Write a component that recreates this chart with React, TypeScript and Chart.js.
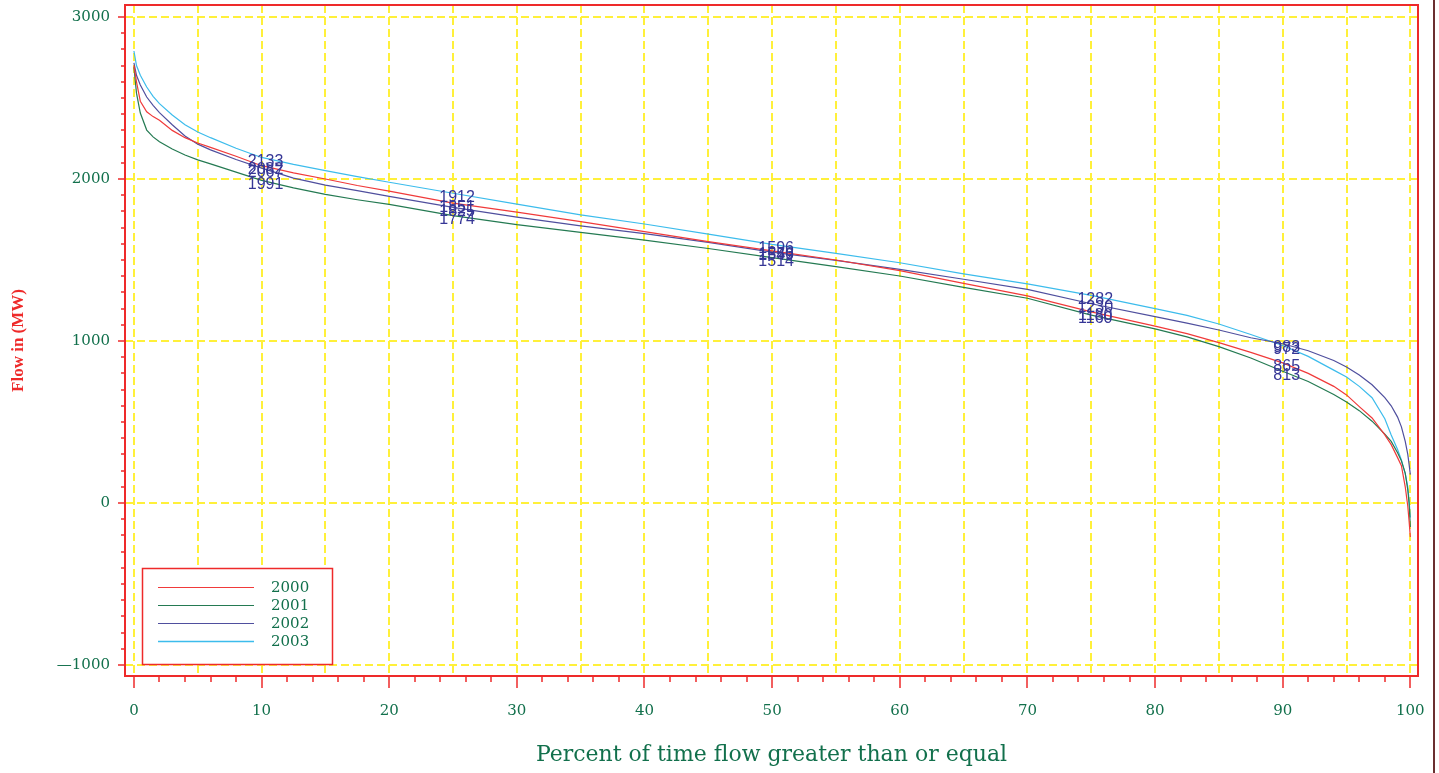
import React, { useEffect, useRef } from "react";
import { Chart, registerables } from "chart.js";

Chart.register(...registerables);

// ---------- data ----------
const percentPoints = [
  0, 0.2, 0.5, 1, 1.5, 2, 3, 4, 5, 6,
  8, 10, 12.5, 15, 17.5, 20, 25, 30, 35, 40,
  45, 50, 55, 60, 65, 70, 75, 80, 82.5, 85,
  87.5, 90, 92, 94, 95, 96, 97, 98, 98.5, 99,
  99.3, 99.6, 99.8, 99.9, 100,
];

const flow2000 = [
  2700, 2600, 2480, 2415, 2385, 2362, 2300, 2255, 2222, 2195,
  2140, 2082, 2038, 2000, 1960, 1925, 1851, 1795, 1737, 1675,
  1613, 1556, 1500, 1434, 1356, 1278, 1180, 1092, 1045, 990,
  930, 865, 800, 720, 667, 595, 525, 420, 360, 280,
  230, 100, -20, -110, -210,
];

const flow2001 = [
  2690, 2530, 2407, 2302, 2260, 2230, 2185, 2148, 2118, 2093,
  2042, 1991, 1945, 1905, 1872, 1843, 1774, 1718, 1671, 1623,
  1571, 1514, 1459, 1401, 1331, 1264, 1160, 1075, 1025, 965,
  895, 813, 750, 670, 623, 570, 505, 425, 380, 310,
  260, 185, 80, 0, -148,
];

const flow2002 = [
  2716, 2640, 2580, 2506, 2455, 2410, 2335, 2265, 2215, 2180,
  2120, 2067, 2005, 1962, 1928, 1893, 1825, 1765, 1710, 1663,
  1609, 1549, 1498, 1442, 1381, 1319, 1230, 1150, 1110, 1068,
  1020, 983, 940, 880, 840, 790, 730, 650, 600, 530,
  470, 380, 300, 240, 175,
];

const flow2003 = [
  2790, 2700, 2640, 2568, 2510, 2465, 2395, 2335, 2290, 2255,
  2190, 2133, 2090, 2052, 2015, 1980, 1912, 1845, 1778, 1722,
  1660, 1596, 1541, 1483, 1414, 1352, 1282, 1200, 1158, 1105,
  1040, 972, 905, 820, 778, 720, 650, 520, 420, 330,
  265, 180, 99, 20, -90,
];

const seriesNames = ["2000", "2001", "2002", "2003"];
const seriesColors = ["#f03a3a", "#247a52", "#4f4f9e", "#3cbcec"];

const labelPercents = [10, 25, 50, 75, 90];
const labels2000 = [2082, 1851, 1556, 1180, 865];
const labels2001 = [1991, 1774, 1514, 1160, 813];
const labels2002 = [2067, 1825, 1549, 1230, 983];
const labels2003 = [2133, 1912, 1596, 1282, 972];

const xTickLabels = [0, 10, 20, 30, 40, 50, 60, 70, 80, 90, 100];
const xGridValues = [0, 5, 10, 15, 20, 25, 30, 35, 40, 45, 50, 55, 60, 65, 70, 75, 80, 85, 90, 95, 100];
const yTickLabels = [-1000, 0, 1000, 2000, 3000];

const GREEN_TEXT = "#12704c";
const RED = "#ee2a2a";
const YELLOW = "#fff03a";
const LABEL_BLUE = "#363696";

const allSeries = [flow2000, flow2001, flow2002, flow2003];
const allLabels = [labels2000, labels2001, labels2002, labels2003];

const decorPlugin = {
  id: "decor",
  beforeDatasetsDraw(chart: any) {
    const { ctx, chartArea: a, scales } = chart;
    const x = scales.x;
    const y = scales.y;
    ctx.save();
    ctx.strokeStyle = YELLOW;
    ctx.lineWidth = 2;
    ctx.setLineDash([8, 4]);
    xGridValues.forEach((v) => {
      const px = Math.round(x.getPixelForValue(v));
      ctx.beginPath();
      ctx.moveTo(px, a.top);
      ctx.lineTo(px, a.bottom);
      ctx.stroke();
    });
    yTickLabels.forEach((v) => {
      const py = Math.round(y.getPixelForValue(v));
      ctx.beginPath();
      ctx.moveTo(a.left, py);
      ctx.lineTo(a.right, py);
      ctx.stroke();
    });
    ctx.restore();
  },
  afterDatasetsDraw(chart: any) {
    const { ctx, scales } = chart;
    const x = scales.x;
    const y = scales.y;
    ctx.save();
    ctx.font = "16px 'Liberation Sans', Arial, sans-serif";
    ctx.fillStyle = LABEL_BLUE;
    ctx.textAlign = "center";
    ctx.textBaseline = "middle";
    allLabels.forEach((vals) => {
      vals.forEach((v, i) => {
        const px = x.getPixelForValue(labelPercents[i]) + 4;
        const py = y.getPixelForValue(v) + 4;
        ctx.fillText(String(v), px, py);
      });
    });
    ctx.restore();
  },
  afterDraw(chart: any) {
    const { ctx, chartArea: a, scales } = chart;
    const x = scales.x;
    const y = scales.y;
    ctx.save();
    ctx.strokeStyle = RED;
    // frame
    ctx.lineWidth = 2;
    ctx.strokeRect(Math.round(a.left), Math.round(a.top), Math.round(a.right - a.left), Math.round(a.bottom - a.top));
    ctx.lineWidth = 1.5;
    // x tick marks (every 2, major every 10)
    for (let v = 0; v <= 100; v += 2) {
      const px = Math.round(x.getPixelForValue(v));
      const len = v % 10 === 0 ? 12 : 6;
      ctx.beginPath();
      ctx.moveTo(px, a.bottom);
      ctx.lineTo(px, a.bottom + len);
      ctx.stroke();
    }
    // y tick marks (every 100, major every 1000)
    for (let v = -1000; v <= 3000; v += 100) {
      const py = Math.round(y.getPixelForValue(v));
      const len = v % 1000 === 0 ? 7 : 4;
      ctx.beginPath();
      ctx.moveTo(a.left - len, py);
      ctx.lineTo(a.left, py);
      ctx.stroke();
    }
    // legend
    const lx = 142, ly = 568, lw = 190, lh = 96;
    ctx.fillStyle = "#ffffff";
    ctx.fillRect(lx, ly, lw, lh);
    ctx.strokeStyle = RED;
    ctx.lineWidth = 1.5;
    ctx.strokeRect(lx + 0.5, ly + 0.5, lw, lh);
    ctx.font = "15px 'DejaVu Serif', serif";
    ctx.textAlign = "left";
    ctx.textBaseline = "middle";
    chart.data.datasets.forEach((ds: any, i: number) => {
      const yy = 587.5 + i * 18;
      ctx.strokeStyle = ds.borderColor;
      ctx.lineWidth = i === 3 ? 1.6 : 1;
      ctx.beginPath();
      ctx.moveTo(158, yy);
      ctx.lineTo(254, yy);
      ctx.stroke();
      ctx.fillStyle = GREEN_TEXT;
      ctx.fillText(ds.label, 271, yy + 1);
    });
    // right page rule
    ctx.fillStyle = "#6a2f30";
    ctx.fillRect(1433, 0, 2, chart.height);
    ctx.restore();
  },
};

export default function App() {
  const canvasRef = useRef<HTMLCanvasElement | null>(null);

  useEffect(() => {
    const canvas = canvasRef.current;
    if (!canvas) return;
    const chart = new Chart(canvas, {
      type: "line",
      data: {
        datasets: allSeries.map((s, i) => ({
          label: seriesNames[i],
          data: s.map((v, j) => ({ x: percentPoints[j], y: v })),
          borderColor: seriesColors[i],
          backgroundColor: seriesColors[i],
          borderWidth: 1.2,
          pointRadius: 0,
          tension: 0,
          fill: false,
        })),
      },
      options: {
        animation: false,
        responsive: true,
        maintainAspectRatio: false,
        layout: { padding: { top: 5, right: 21, left: 0, bottom: 0 } },
        plugins: {
          legend: { display: false },
          tooltip: { enabled: false },
        },
        scales: {
          x: {
            type: "linear",
            min: -0.7,
            max: 100.6,
            afterBuildTicks: (scale: any) => {
              scale.ticks = xTickLabels.map((v) => ({ value: v }));
            },
            afterFit: (scale: any) => {
              scale.height = 97;
              scale.paddingLeft = 0;
              scale.paddingRight = 0;
            },
            grid: { display: false, drawTicks: false },
            border: { display: false },
            ticks: {
              autoSkip: false,
              maxRotation: 0,
              minRotation: 0,
              padding: 26,
              color: GREEN_TEXT,
              font: { family: "'DejaVu Serif', serif", size: 15 },
            },
            title: {
              display: true,
              text: "Percent of time flow greater than or equal",
              color: GREEN_TEXT,
              font: { family: "'DejaVu Serif', serif", size: 22 },
              padding: { top: 0, bottom: 5 },
            },
          },
          y: {
            type: "linear",
            min: -1068,
            max: 3074,
            afterBuildTicks: (scale: any) => {
              scale.ticks = yTickLabels.map((v) => ({ value: v }));
            },
            afterFit: (scale: any) => {
              scale.width = 125;
              scale.paddingTop = 0;
              scale.paddingBottom = 0;
            },
            grid: { display: false, drawTicks: false },
            border: { display: false },
            ticks: {
              autoSkip: false,
              padding: 15,
              color: GREEN_TEXT,
              font: { family: "'DejaVu Serif', serif", size: 15 },
              callback: (v: any) => (Number(v) < 0 ? "\u2014" + String(Math.abs(Number(v))) : String(v)),
            },
            title: {
              display: true,
              text: "Flow in (MW)",
              color: RED,
              font: { family: "'Liberation Serif', serif", size: 17, weight: "bold" },
              padding: { top: 8, bottom: 0 },
            },
          },
        },
      },
      plugins: [decorPlugin],
    });
    return () => chart.destroy();
  }, []);

  return (
    <div style={{ position: "fixed", left: 0, top: 0, width: 1439, height: 773, background: "#ffffff" }}>
      <canvas ref={canvasRef} />
    </div>
  );
}
